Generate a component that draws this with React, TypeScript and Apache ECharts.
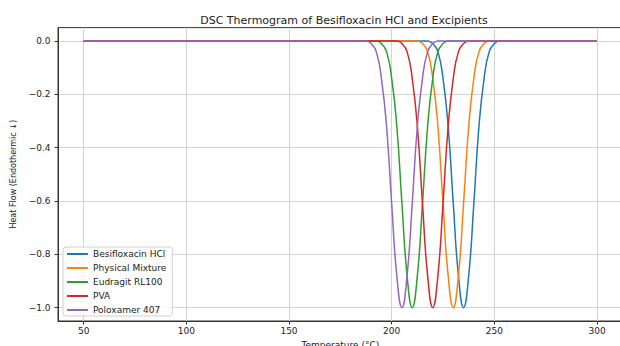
import React, { useEffect, useRef } from "react";
import * as echarts from "echarts";

const temperatures = [50, 185, 187.5, 190, 192.5, 195, 197.5, 200, 202.5, 205, 207.5, 210, 212.5, 215, 217.5, 220, 222.5, 225, 227.5, 230, 232.5, 235, 237.5, 240, 242.5, 245, 247.5, 250, 252.5, 255, 300];

const besifloxacin = [0, 0, 0, 0, 0, 0, 0, 0, 0, 0, 0, 0, 0, 0, 0, -0.01, -0.04, -0.14, -0.32, -0.61, -0.88, -1.0, -0.88, -0.61, -0.32, -0.14, -0.04, -0.01, 0, 0, 0];
const physicalMixture = [0, 0, 0, 0, 0, 0, 0, 0, 0, 0, 0, 0, 0, -0.01, -0.04, -0.14, -0.32, -0.61, -0.88, -1.0, -0.88, -0.61, -0.32, -0.14, -0.04, -0.01, 0, 0, 0, 0, 0];
const eudragit = [0, 0, 0, 0, 0, -0.01, -0.04, -0.14, -0.32, -0.61, -0.88, -1.0, -0.88, -0.61, -0.32, -0.14, -0.04, -0.01, 0, 0, 0, 0, 0, 0, 0, 0, 0, 0, 0, 0, 0];
const pva = [0, 0, 0, 0, 0, 0, 0, 0, 0, -0.01, -0.04, -0.14, -0.32, -0.61, -0.88, -1.0, -0.88, -0.61, -0.32, -0.14, -0.04, -0.01, 0, 0, 0, 0, 0, 0, 0, 0, 0];
const poloxamer = [0, 0, 0, -0.01, -0.04, -0.14, -0.32, -0.61, -0.88, -1.0, -0.88, -0.61, -0.32, -0.14, -0.04, -0.01, 0, 0, 0, 0, 0, 0, 0, 0, 0, 0, 0, 0, 0, 0, 0];

const seriesNames = ["Besifloxacin HCl", "Physical Mixture", "Eudragit RL100", "PVA", "Poloxamer 407"];
const seriesValues = [besifloxacin, physicalMixture, eudragit, pva, poloxamer];
const colors = ["#1f77b4", "#ff7f0e", "#2ca02c", "#d62728", "#9467bd"];

const xTicks = [50, 100, 150, 200, 250, 300];
const yTicks = [0, -0.2, -0.4, -0.6, -0.8, -1.0];

const FONT = "DejaVu Sans";

export default function App() {
  const ref = useRef<HTMLDivElement>(null);
  useEffect(() => {
    if (!ref.current) return;
    const chart = echarts.init(ref.current, null, { renderer: "svg" });
    chart.setOption({
      animation: false,
      backgroundColor: "#ffffff",
      title: {
        text: "DSC Thermogram of Besifloxacin HCl and Excipients",
        left: 339,
        textAlign: "center",
        top: 10,
        textStyle: { fontFamily: FONT, fontSize: 11, fontWeight: "normal", color: "#222" },
      },
      grid: {
        left: 58,
        top: 27.6,
        width: 564.7,
        height: 293.4,
        show: true,
        borderColor: "#333",
        borderWidth: 1,
        containLabel: false,
        outerBoundsMode: "none",
      },
      legend: {
        orient: "vertical",
        left: 63,
        top: 247,
        icon: "rect",
        itemWidth: 21,
        itemHeight: 2,
        itemGap: 2,
        itemTextGap: 8,
        padding: [1, 6, 0, 4],
        borderColor: "#d0d0d0",
        borderWidth: 1,
        borderRadius: 3,
        backgroundColor: "rgba(255,255,255,0.85)",
        textStyle: { fontFamily: FONT, fontSize: 9, color: "#222", lineHeight: 12 },
        data: seriesNames,
      },
      xAxis: {
        type: "value",
        min: 37.5,
        max: 312.5,
        name: "Temperature (°C)",
        nameLocation: "middle",
        nameGap: 14,
        nameTextStyle: { fontFamily: FONT, fontSize: 9, color: "#222", verticalAlign: "top", lineHeight: 10 },
        axisLine: { show: true, onZero: false, lineStyle: { color: "#333", width: 1 } },
        axisTick: { show: true, length: 3.5, lineStyle: { color: "#333" }, customValues: xTicks },
        axisLabel: {
          customValues: xTicks,
          margin: 5,
          fontFamily: FONT,
          fontSize: 9,
          color: "#222",
        },
        splitLine: { show: true, lineStyle: { color: "#d3d3d3", width: 1 } },
      },
      yAxis: {
        type: "value",
        min: -1.05,
        max: 0.05,
        name: "Heat Flow (Endothermic ↓)",
        nameLocation: "middle",
        nameRotate: 90,
        nameGap: 30,
        nameTextStyle: { fontFamily: FONT, fontSize: 8, color: "#222" },
        axisLine: { show: true, onZero: false, lineStyle: { color: "#333", width: 1 } },
        axisTick: { show: true, length: 3.5, lineStyle: { color: "#333" }, customValues: yTicks },
        axisLabel: {
          customValues: yTicks,
          margin: 7.5,
          fontFamily: FONT,
          fontSize: 9,
          color: "#222",
          formatter: (v: number) => v.toFixed(1).replace("-", "\u2212"),
        },
        splitLine: { show: true, lineStyle: { color: "#d3d3d3", width: 1 } },
      },
      series: seriesNames.map((name, i) => ({
        name,
        type: "line",
        data: temperatures.map((t, j) => [t, seriesValues[i][j]]),
        showSymbol: false,
        symbol: "none",
        smooth: 0.5,
        lineStyle: { color: colors[i], width: 1.5 },
        itemStyle: { color: colors[i] },
        color: colors[i],
      })),
    });
    return () => chart.dispose();
  }, []);
  return (
    <div
      ref={ref}
      style={{ position: "absolute", left: 0, top: 0, width: 620, height: 346 }}
    />
  );
}
